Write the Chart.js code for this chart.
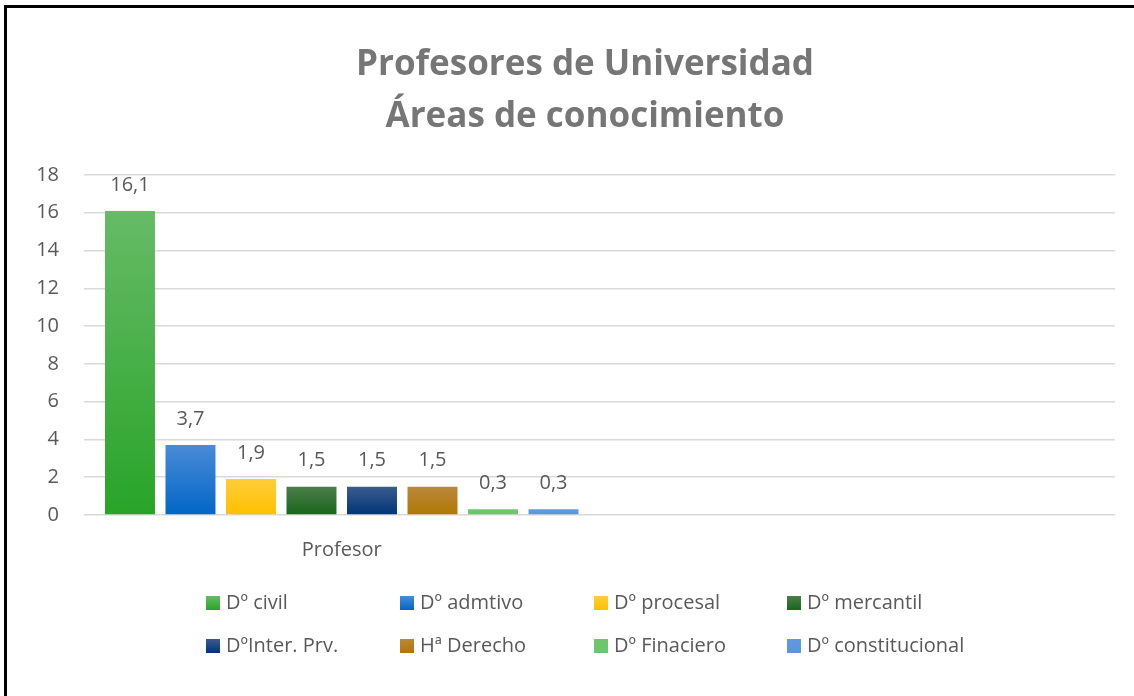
<!DOCTYPE html>
<html>
<head>
<meta charset="utf-8">
<script src="https://cdn.jsdelivr.net/npm/chart.js@4"></script>
<style>
  html, body { margin: 0; padding: 0; background: #fff; }
  #wrap { width: 1134px; height: 696px; }
</style>
</head>
<body>
<div id="wrap"><canvas id="areasChart" width="1134" height="696"></canvas></div>
<script>
// datos
const categories = ['Profesor', ''];
const seriesNames = ['Dº civil', 'Dº admtivo', 'Dº procesal', 'Dº mercantil',
                     'DºInter. Prv.', 'Hª Derecho', 'Dº Finaciero', 'Dº constitucional'];
const seriesValues = [16.1, 3.7, 1.9, 1.5, 1.5, 1.5, 0.3, 0.3];
const yTickValues = [0, 2, 4, 6, 8, 10, 12, 14, 16, 18];
const titleLines = ['Profesores de Universidad', 'Áreas de conocimiento'];

// colores (arriba, abajo) para el degradado de cada barra
const barColors = [
  ['#66bb66', '#28a428'],
  ['#4a8bd8', '#0066c6'],
  ['#ffcd3a', '#ffc000'],
  ['#4b7d4b', '#19661a'],
  ['#3b5b8d', '#003478'],
  ['#b9883c', '#b07800'],
  ['#70c670', '#6cc46c'],
  ['#5f9ade', '#5b96dc']
];

const FONT = "'Open Sans', 'Liberation Sans', sans-serif";
const GREY = '#595959';
const TXT = 20;

function gradientFor(ctx, top, bottom, i) {
  const g = ctx.createLinearGradient(0, top, 0, bottom);
  g.addColorStop(0, barColors[i][0]);
  g.addColorStop(1, barColors[i][1]);
  return g;
}

const datasets = seriesNames.map((name, i) => ({
  label: name,
  data: [seriesValues[i], null],
  backgroundColor(c) {
    const area = c.chart.chartArea;
    const y = c.chart.scales.y;
    if (!area || !y || c.raw == null) return barColors[i][1];
    const top = y.getPixelForValue(c.raw);
    if (!isFinite(top)) return barColors[i][1];
    return gradientFor(c.chart.ctx, top, area.bottom, i);
  },
  borderWidth: 0,
  categoryPercentage: 0.939,
  barPercentage: 0.826
}));

// titulo en dos lineas
const titlePlugin = {
  id: 'twoLineTitle',
  afterDraw(chart) {
    const ctx = chart.ctx;
    ctx.save();
    ctx.font = `bold 35px ${FONT}`;
    ctx.fillStyle = '#767676';
    ctx.textAlign = 'center';
    ctx.textBaseline = 'middle';
    ctx.fillText(titleLines[0], 585, 65);
    ctx.fillText(titleLines[1], 585, 117);
    ctx.restore();
  }
};

// marco negro (arriba e izquierda)
const framePlugin = {
  id: 'frame',
  afterDraw(chart) {
    const ctx = chart.ctx;
    ctx.save();
    ctx.strokeStyle = '#000';
    ctx.lineWidth = 3;
    ctx.beginPath();
    ctx.moveTo(5.5, 696);
    ctx.lineTo(5.5, 6.5);
    ctx.lineTo(1134, 6.5);
    ctx.stroke();
    ctx.restore();
  }
};

// etiquetas de datos con coma decimal
const valueLabels = {
  id: 'valueLabels',
  afterDatasetsDraw(chart) {
    const ctx = chart.ctx;
    ctx.save();
    ctx.font = `${TXT}px ${FONT}`;
    ctx.fillStyle = GREY;
    ctx.textAlign = 'center';
    ctx.textBaseline = 'middle';
    chart.data.datasets.forEach((ds, i) => {
      const el = chart.getDatasetMeta(i).data[0];
      const v = ds.data[0];
      if (el && v != null) {
        ctx.fillText(String(v).replace('.', ','), el.x, el.y - 26);
      }
    });
    ctx.restore();
  }
};

// leyenda en rejilla de 4 columnas
const gridLegend = {
  id: 'gridLegend',
  afterDraw(chart) {
    const ctx = chart.ctx;
    const colX = [206, 400, 594, 787];
    const rowY = [603, 646];
    ctx.save();
    ctx.font = `${TXT}px ${FONT}`;
    ctx.textBaseline = 'middle';
    ctx.textAlign = 'left';
    chart.data.datasets.forEach((ds, i) => {
      const x = colX[i % 4];
      const y = rowY[Math.floor(i / 4)];
      ctx.fillStyle = gradientFor(ctx, y - 7, y + 7, i);
      ctx.fillRect(x, y - 7, 14, 14);
      ctx.fillStyle = GREY;
      ctx.fillText(ds.label, x + 20, y);
    });
    ctx.restore();
  }
};

new Chart(document.getElementById('areasChart').getContext('2d'), {
  type: 'bar',
  data: { labels: categories, datasets },
  options: {
    responsive: false,
    animation: false,
    layout: { padding: { left: 0, right: 19, top: 175, bottom: 121 } },
    plugins: {
      legend: { display: false },
      tooltip: { enabled: false },
      title: { display: false }
    },
    scales: {
      x: {
        grid: { display: false },
        border: { display: false },
        ticks: { color: GREY, font: { family: FONT, size: TXT }, padding: 15 },
        afterFit(scale) { scale.height = 60; }
      },
      y: {
        min: 0,
        max: 18,
        afterBuildTicks(scale) { scale.ticks = yTickValues.map(v => ({ value: v })); },
        grid: { color: '#d9d9d9', lineWidth: 1.5, drawTicks: false },
        border: { display: false },
        ticks: { color: GREY, font: { family: FONT, size: TXT }, padding: 25 },
        afterFit(scale) { scale.width = 84; }
      }
    }
  },
  plugins: [valueLabels, gridLegend, titlePlugin, framePlugin]
});
</script>
</body>
</html>
